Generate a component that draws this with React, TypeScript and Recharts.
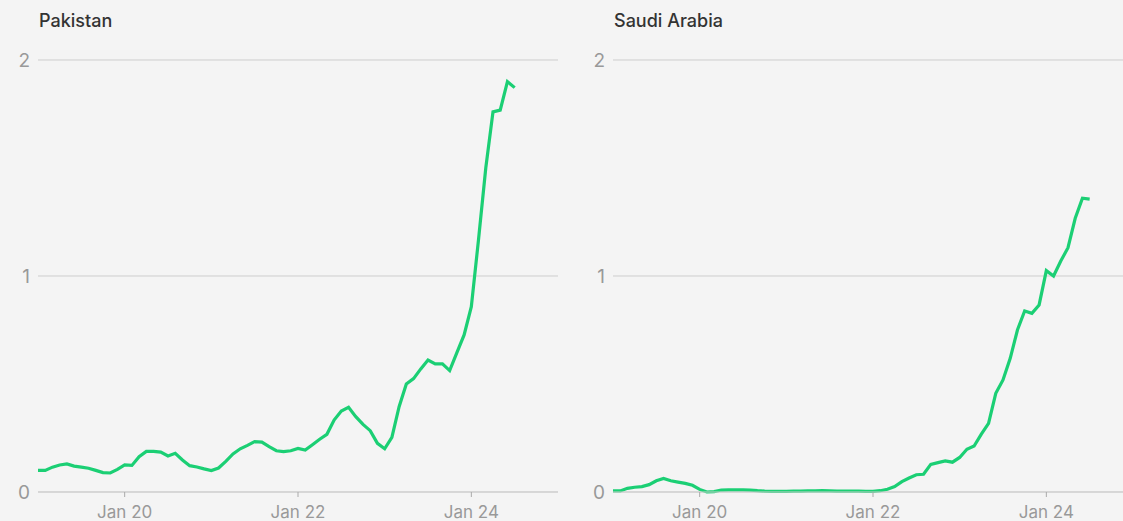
import { LineChart, Line, XAxis, YAxis, CartesianGrid } from "recharts";

// monthly values, Jan 2019 (index 0) to Jul 2024 (index 66)
const pakistan = [
  0.1, 0.1, 0.115, 0.125, 0.13, 0.12, 0.115, 0.11, 0.1, 0.09, 0.088, 0.105,
  0.126, 0.123, 0.163, 0.188, 0.188, 0.185, 0.167, 0.179, 0.148, 0.122, 0.116, 0.107,
  0.099, 0.111, 0.142, 0.176, 0.2, 0.216, 0.233, 0.231, 0.21, 0.191, 0.187, 0.191,
  0.202, 0.194, 0.219, 0.244, 0.267, 0.333, 0.375, 0.392, 0.349, 0.313, 0.284, 0.225,
  0.2, 0.253, 0.395, 0.5, 0.525, 0.57, 0.611, 0.593, 0.593, 0.562, 0.645, 0.727,
  0.858, 1.17, 1.5, 1.76, 1.768, 1.9, 1.872,
];

const saudiArabia = [
  0.005, 0.005, 0.017, 0.022, 0.025, 0.034, 0.052, 0.063, 0.052, 0.046, 0.04, 0.031,
  0.012, 0.0, 0.002, 0.009, 0.01, 0.01, 0.01, 0.009, 0.006, 0.004, 0.003, 0.003,
  0.003, 0.004, 0.004, 0.005, 0.005, 0.006, 0.005, 0.004, 0.004, 0.004, 0.004, 0.003,
  0.003, 0.006, 0.013, 0.025, 0.048, 0.065, 0.08, 0.082, 0.128, 0.136, 0.144, 0.138,
  0.16, 0.198, 0.213, 0.268, 0.318, 0.457, 0.519, 0.619, 0.75, 0.838, 0.827, 0.866,
  1.025, 1.0, 1.069, 1.131, 1.267, 1.36, 1.356,
];

const xTicks = [12, 36, 60];
const xTickLabels = ["Jan 20", "Jan 22", "Jan 24"];
const yTicks = [0, 1, 2];

const GREEN = "#1bcf74";
const GRID = "#cdcdcd";
const MUTED = "#999999";
const FONT = "Inter, 'Noto Sans', sans-serif";

function YTick(props: any) {
  const { y, payload } = props;
  return (
    <text x={30} y={y} dy={7} textAnchor="end" fill={MUTED} fontSize={19} fontFamily={FONT}>
      {payload.value}
    </text>
  );
}

function Panel({ title, values, left }: { title: string; values: number[]; left: number }) {
  const data = values.map((v, i) => ({ m: i, v }));
  return (
    <div style={{ position: "absolute", left, top: 0, width: 570, height: 521 }}>
      <div
        style={{
          position: "absolute",
          left: 39,
          top: 10,
          fontFamily: FONT,
          fontSize: 18,
          fontWeight: 500,
          color: "#333",
        }}
      >
        {title}
      </div>
      <LineChart width={570} height={521} data={data} margin={{ top: 60, right: 12, bottom: 0, left: 0 }}>
        <CartesianGrid vertical={false} stroke={GRID} />
        <XAxis
          dataKey="m"
          type="number"
          domain={[0, 72]}
          ticks={xTicks}
          tickFormatter={(v) => xTickLabels[xTicks.indexOf(v)]}
          axisLine={{ stroke: GRID }}
          tickLine={{ stroke: "#aaa" }}
          tickSize={5}
          tickMargin={9}
          height={29}
          tick={{ fill: MUTED, fontSize: 17, fontFamily: FONT }}
        />
        <YAxis
          width={38}
          domain={[0, 2]}
          ticks={yTicks}
          axisLine={false}
          tickLine={false}
          tick={<YTick />}
        />
        <Line
          type="linear"
          dataKey="v"
          stroke={GREEN}
          strokeWidth={3.2}
          dot={false}
          isAnimationActive={false}
        />
      </LineChart>
    </div>
  );
}

export default function App() {
  return (
    <div
      style={{
        position: "fixed",
        left: 0,
        top: 0,
        width: 1123,
        height: 521,
        background: "#f4f4f4",
        overflow: "hidden",
      }}
    >
      <Panel title="Pakistan" values={pakistan} left={0} />
      <Panel title="Saudi Arabia" values={saudiArabia} left={575} />
    </div>
  );
}
